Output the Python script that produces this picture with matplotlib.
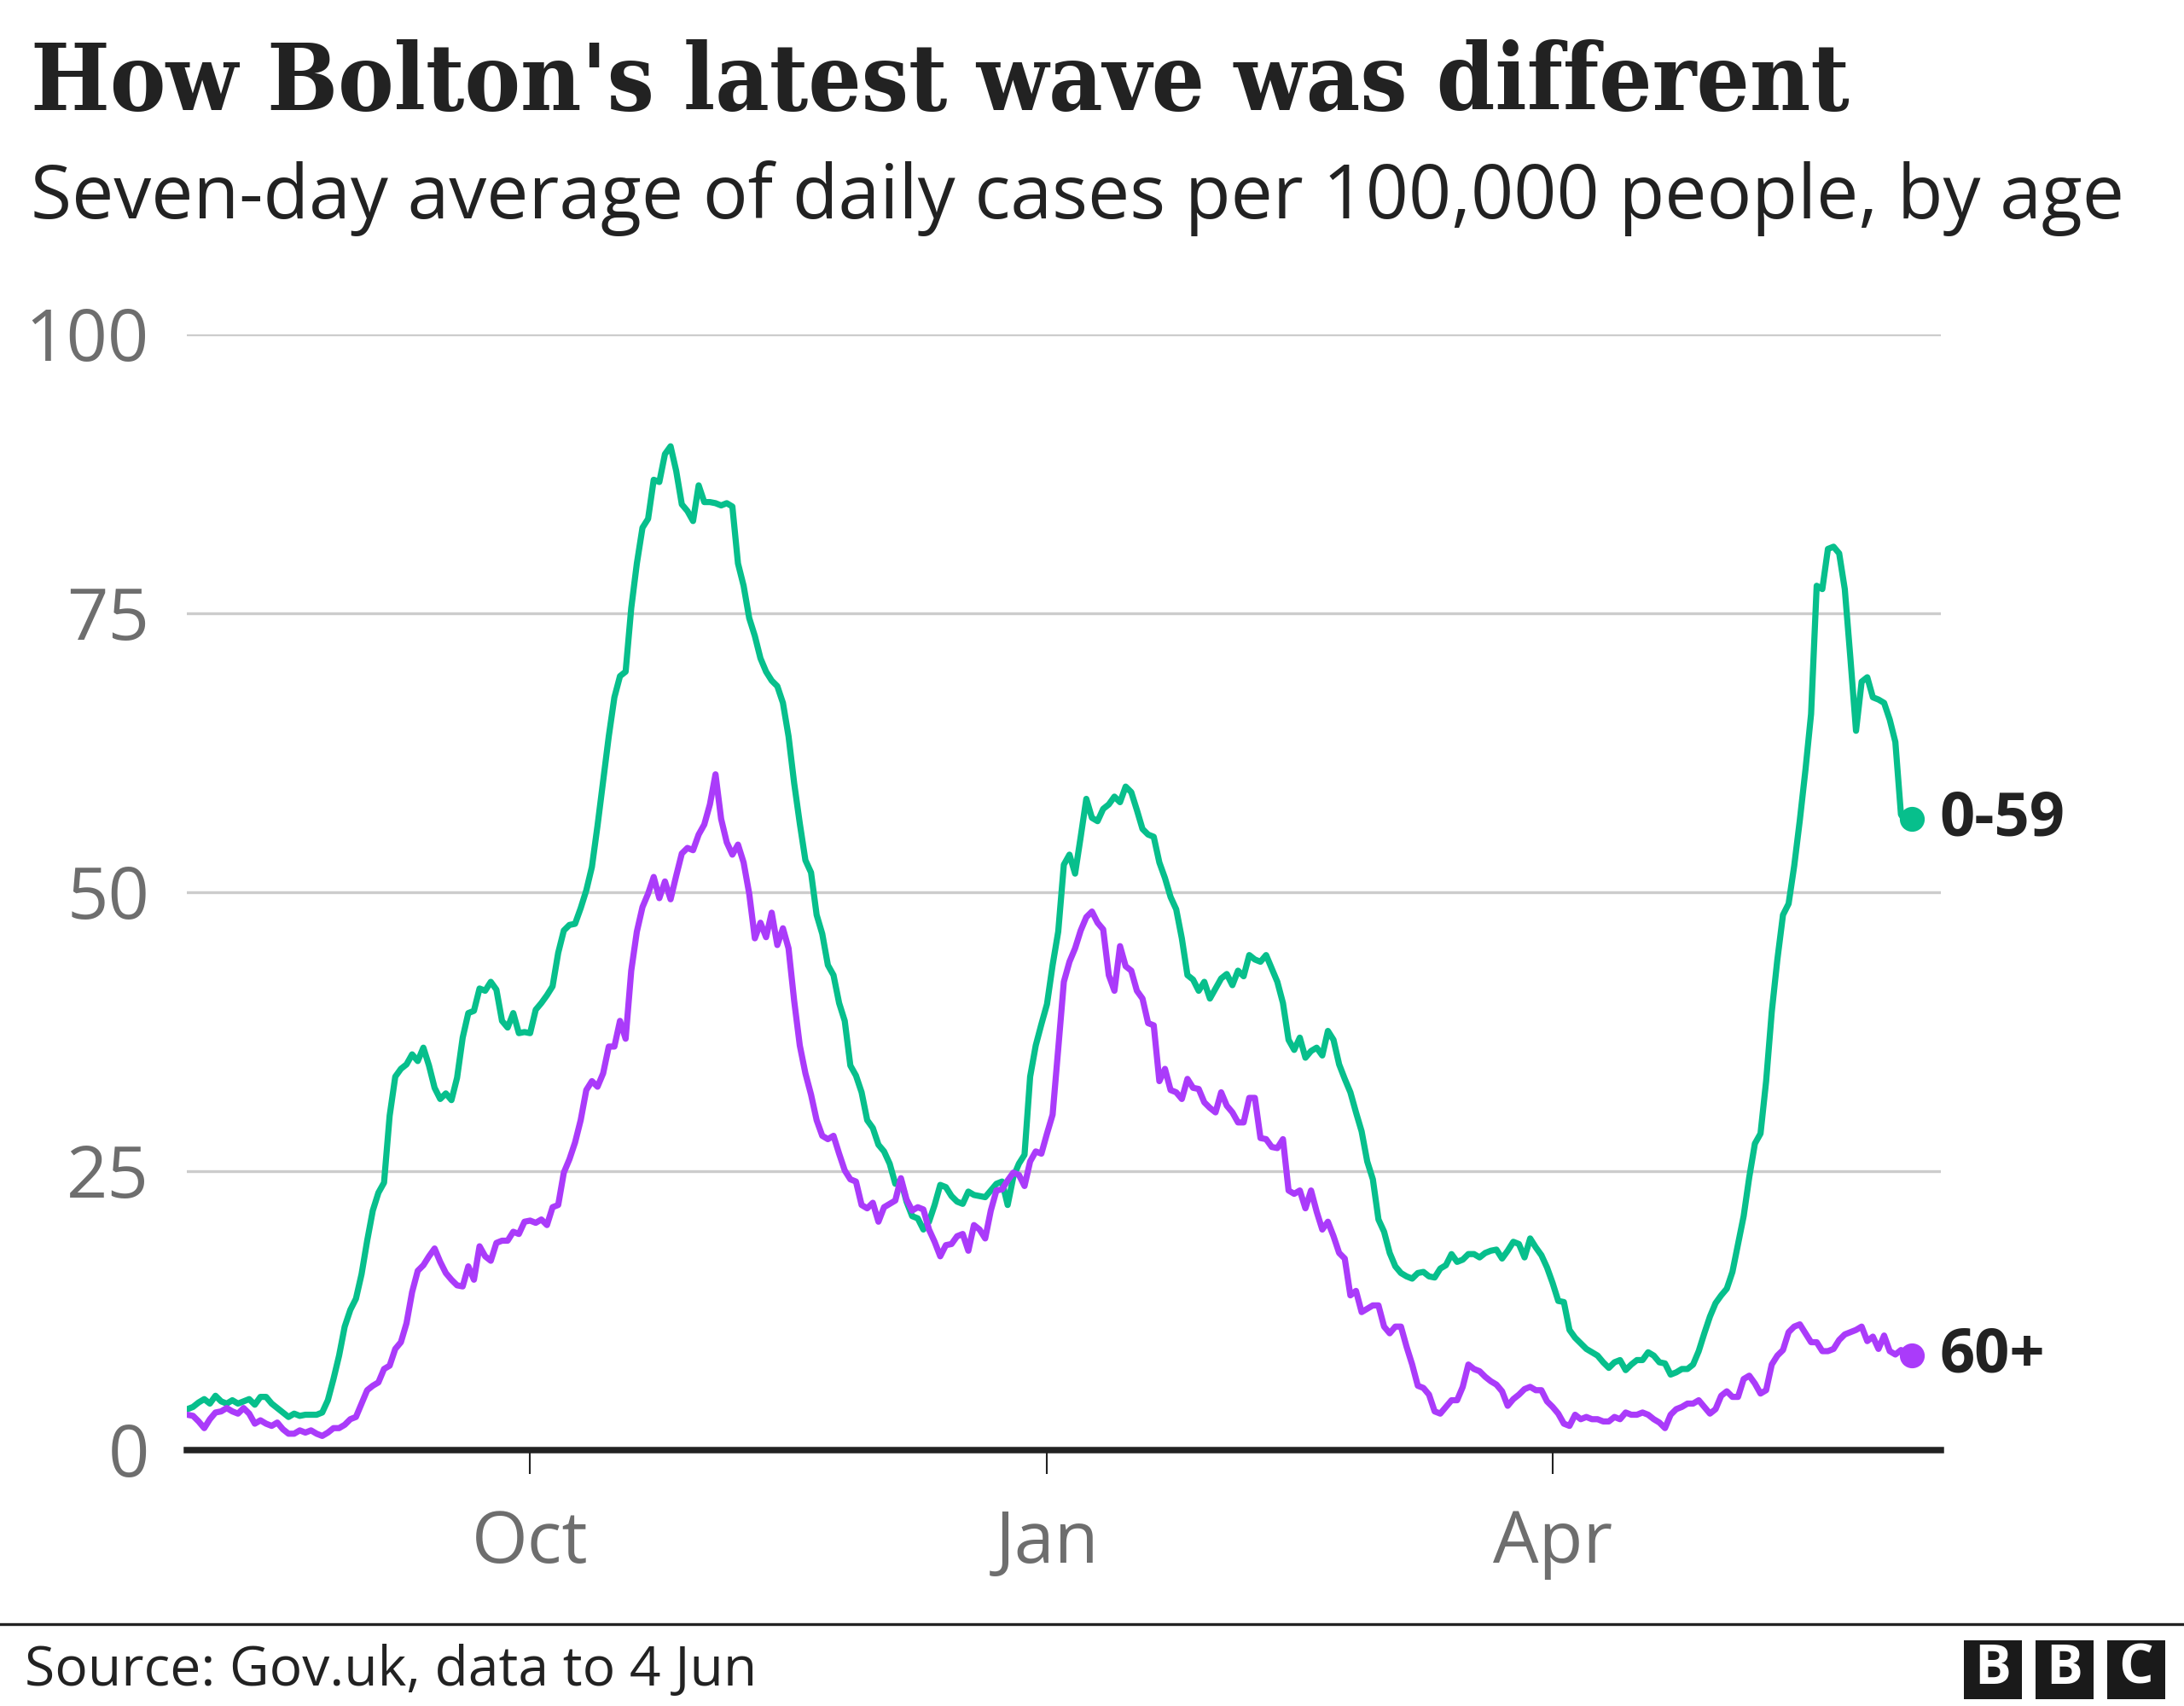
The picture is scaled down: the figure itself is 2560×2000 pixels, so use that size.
import matplotlib
matplotlib.use("Agg")
import matplotlib.pyplot as plt
from matplotlib.patches import Rectangle
from matplotlib.lines import Line2D
from matplotlib import font_manager
import pandas as pd

# ---------------- data (7-day avg daily cases per 100k, from 1 Aug 2020) ----------------
start_date = "2020-08-01"

cases_0_59 = [
    3.7, 3.9, 4.3, 4.6, 4.2, 4.9, 4.4, 4.2, 4.5, 4.2,
    4.4, 4.6, 4.1, 4.8, 4.8, 4.2, 3.8, 3.4, 3.0, 3.3,
    3.1, 3.2, 3.2, 3.2, 3.4, 4.5, 6.4, 8.5, 11.1, 12.6,
    13.6, 15.8, 18.8, 21.5, 23.1, 24.0, 30.0, 33.5, 34.2, 34.6,
    35.5, 34.9, 36.1, 34.5, 32.5, 31.5, 32.0, 31.4, 33.4, 37.0,
    39.2, 39.4, 41.4, 41.2, 42.0, 41.3, 38.5, 37.9, 39.2, 37.4,
    37.5, 37.4, 39.5, 40.1, 40.8, 41.6, 44.6, 46.6, 47.1, 47.2,
    48.6, 50.2, 52.3, 56.0, 60.0, 64.0, 67.5, 69.4, 69.8, 75.5,
    79.5, 82.7, 83.5, 87.0, 86.8, 89.3, 90.0, 87.8, 84.8, 84.2,
    83.3, 86.5, 85.0, 85.0, 84.9, 84.7, 84.9, 84.6, 79.5, 77.5,
    74.6, 73.0, 71.0, 69.8, 69.0, 68.5, 67.0, 64.0, 59.8, 56.2,
    52.9, 51.8, 48.0, 46.3, 43.5, 42.6, 40.1, 38.5, 34.5, 33.6,
    32.1, 29.6, 28.9, 27.4, 26.8, 25.7, 23.9, 24.2, 22.3, 21.0,
    20.8, 19.8, 20.5, 22.0, 23.8, 23.6, 22.8, 22.3, 22.1, 23.2,
    22.9, 22.8, 22.7, 23.3, 23.9, 24.1, 22.0, 24.5, 25.7, 26.5,
    33.5, 36.3, 38.2, 40.0, 43.5, 46.5, 52.5, 53.4, 51.7, 55.0,
    58.4, 56.7, 56.4, 57.5, 57.9, 58.6, 58.1, 59.5, 59.0, 57.4,
    55.7, 55.2, 55.0, 52.7, 51.3, 49.6, 48.5, 45.9, 42.6, 42.2,
    41.2, 42.0, 40.5, 41.4, 42.3, 42.7, 41.7, 43.0, 42.5, 44.4,
    44.0, 43.8, 44.4, 43.2, 42.0, 40.1, 36.8, 35.9, 37.0, 35.2,
    35.8, 36.1, 35.4, 37.6, 36.8, 34.6, 33.3, 32.1, 30.3, 28.6,
    25.9, 24.3, 20.7, 19.6, 17.7, 16.5, 15.9, 15.6, 15.4, 15.9,
    16.0, 15.6, 15.5, 16.3, 16.6, 17.6, 16.9, 17.1, 17.6, 17.6,
    17.3, 17.7, 17.9, 18.0, 17.2, 17.9, 18.7, 18.5, 17.3, 19.0,
    18.2, 17.5, 16.4, 15.0, 13.4, 13.3, 10.8, 10.1, 9.6, 9.1,
    8.8, 8.5, 7.9, 7.4, 7.9, 8.1, 7.2, 7.7, 8.1, 8.1,
    8.8, 8.5, 7.9, 7.8, 6.8, 7.0, 7.3, 7.3, 7.7, 8.9,
    10.5, 12.0, 13.2, 13.9, 14.5, 16.0, 18.5, 21.0, 24.5, 27.5,
    28.4, 33.1, 39.3, 44.0, 48.0, 49.0, 52.4, 56.5, 61.0, 66.0,
    77.5, 77.2, 80.8, 81.0, 80.4, 77.2, 71.0, 64.5, 68.9, 69.3,
    67.5, 67.3, 67.0, 65.5, 63.5, 57.0, 56.2, 56.6,
]

cases_60_plus = [
    3.2, 3.1, 2.6, 2.0, 2.8, 3.4, 3.5, 3.8, 3.5, 3.3,
    3.8, 3.3, 2.4, 2.7, 2.4, 2.2, 2.5, 1.9, 1.5, 1.5,
    1.8, 1.6, 1.8, 1.5, 1.3, 1.6, 2.0, 2.0, 2.3, 2.8,
    3.0, 4.2, 5.4, 5.8, 6.1, 7.3, 7.6, 9.1, 9.7, 11.4,
    14.2, 16.1, 16.6, 17.4, 18.1, 16.9, 15.9, 15.3, 14.8, 14.7,
    16.5, 15.3, 18.3, 17.4, 17.0, 18.6, 18.8, 18.8, 19.6, 19.4,
    20.5, 20.6, 20.4, 20.7, 20.2, 21.8, 22.0, 24.9, 26.1, 27.6,
    29.6, 32.3, 33.1, 32.6, 33.8, 36.2, 36.2, 38.5, 36.9, 43.0,
    46.5, 48.7, 49.9, 51.4, 49.5, 51.0, 49.4, 51.5, 53.5, 54.0,
    53.8, 55.2, 56.1, 57.9, 60.6, 56.6, 54.5, 53.4, 54.3, 52.7,
    49.9, 45.9, 47.3, 46.0, 48.2, 45.3, 46.8, 45.0, 40.3, 36.3,
    33.8, 31.9, 29.6, 28.2, 27.9, 28.2, 26.6, 25.1, 24.3, 24.1,
    22.0, 21.7, 22.2, 20.5, 21.8, 22.1, 22.4, 24.4, 22.5, 21.5,
    21.8, 21.6, 19.8, 18.7, 17.4, 18.4, 18.5, 19.2, 19.4, 17.9,
    20.2, 19.8, 19.0, 21.5, 23.3, 23.4, 24.2, 24.9, 24.7, 23.7,
    25.9, 26.8, 26.6, 28.4, 30.1, 36.0, 42.0, 43.8, 45.0, 46.6,
    47.8, 48.3, 47.3, 46.7, 42.6, 41.2, 45.2, 43.4, 43.0, 41.2,
    40.5, 38.3, 38.1, 33.1, 34.2, 32.3, 32.1, 31.5, 33.3, 32.5,
    32.4, 31.2, 30.7, 30.3, 32.1, 30.9, 30.3, 29.4, 29.4, 31.6,
    31.6, 28.0, 27.9, 27.2, 27.1, 27.9, 23.3, 23.0, 23.3, 21.7,
    23.3, 21.4, 19.8, 20.5, 19.2, 17.7, 17.2, 13.9, 14.3, 12.4,
    12.7, 13.0, 13.0, 11.1, 10.5, 11.1, 11.1, 9.3, 7.7, 5.8,
    5.6, 5.0, 3.5, 3.3, 3.9, 4.5, 4.5, 5.7, 7.7, 7.3,
    7.1, 6.6, 6.2, 5.9, 5.3, 4.0, 4.6, 5.0, 5.5, 5.7,
    5.4, 5.4, 4.4, 3.9, 3.3, 2.4, 2.2, 3.2, 2.8, 3.0,
    2.8, 2.8, 2.6, 2.6, 3.0, 2.8, 3.4, 3.2, 3.2, 3.4,
    3.2, 2.8, 2.5, 2.0, 3.2, 3.7, 3.9, 4.2, 4.2, 4.5,
    3.9, 3.3, 3.7, 4.9, 5.3, 4.8, 4.8, 6.4, 6.7, 6.0,
    5.1, 5.4, 7.7, 8.5, 9.0, 10.6, 11.1, 11.3, 10.5, 9.7,
    9.7, 8.9, 8.9, 9.1, 9.9, 10.4, 10.6, 10.8, 11.1, 9.8,
    10.2, 9.1, 10.3, 8.9, 8.6, 9.0, 8.8, 8.5,
]

series_labels = ["0-59", "60+"]
y_ticks = [0, 25, 50, 75, 100]
x_tick_dates = ["2020-10-01", "2021-01-01", "2021-04-01"]
x_tick_labels = ["Oct", "Jan", "Apr"]

title = "How Bolton's latest wave was different"
subtitle = "Seven-day average of daily cases per 100,000 people, by age"
source = "Source: Gov.uk, data to 4 Jun"

GREEN = "#07bf8c"
PURPLE = "#aa3bfa"
DARK = "#222222"
GREY_TXT = "#6e6e6e"
GRID = "#cccccc"

# ---------------- figure ----------------
W, H = 2560, 2000
fig = plt.figure(figsize=(W / 100, H / 100), dpi=100)
fig.patch.set_facecolor("white")

ax_left, ax_right = 219, 2275
ax_top, ax_bottom = 392.4, 1700.4
ax = fig.add_axes([ax_left / W, 1 - ax_bottom / H,
                   (ax_right - ax_left) / W, (ax_bottom - ax_top) / H])

dates = pd.date_range(start_date, periods=len(cases_0_59), freq="D")
t0 = pd.Timestamp(start_date)
ax.set_xlim(t0 - pd.Timedelta(days=0.1), t0 + pd.Timedelta(days=312.1))
ax.set_ylim(0, 100)

LW = 5.2
ax.plot(dates, cases_0_59, color=GREEN, lw=LW, solid_joinstyle="round",
        solid_capstyle="round", zorder=3)
ax.plot(dates, cases_60_plus, color=PURPLE, lw=LW, solid_joinstyle="round",
        solid_capstyle="round", zorder=4)

for vals, col, lab in [(cases_0_59, GREEN, series_labels[0]),
                       (cases_60_plus, PURPLE, series_labels[1])]:
    ax.plot([dates[-1]], [vals[-1]], "o", ms=20, color=col, zorder=5, clip_on=False)
    ax.annotate(lab, xy=(dates[-1], vals[-1]), xytext=(23, 0),
                textcoords="offset points", va="center", ha="left",
                fontsize=52, fontweight="bold", family="Open Sans",
                color=DARK, annotation_clip=False)

# grid
ax.set_yticks(y_ticks)
ax.set_yticklabels([])
ax.grid(axis="y", color=GRID, lw=2.4)
ax.grid(axis="x", visible=False)
ax.set_axisbelow(True)
for s in ["top", "right", "left"]:
    ax.spines[s].set_visible(False)
ax.spines["bottom"].set_color(DARK)
ax.spines["bottom"].set_linewidth(5.4)
ax.spines["bottom"].set_zorder(6)
ax.tick_params(axis="y", length=0)

tick_pos = [pd.Timestamp(d) for d in x_tick_dates]
ax.set_xticks(tick_pos)
ax.set_xticklabels([])
ax.tick_params(axis="x", length=20, width=1.5, color=DARK, direction="out")

# y labels (right-aligned)
px_per_unit = (ax_bottom - ax_top) / 100.0
for v in y_ticks:
    ax.text((175 - ax_left) / (ax_right - ax_left), v - 30.6 / px_per_unit, str(v),
            transform=ax.get_yaxis_transform(), ha="right", va="baseline",
            fontsize=61, family="Open Sans", color=GREY_TXT)

# x labels
for d, lab in zip(tick_pos, x_tick_labels):
    ax.text(d, -(1832 - ax_bottom) / (ax_bottom - ax_top), lab,
            transform=ax.get_xaxis_transform(), ha="center", va="baseline",
            fontsize=61, family="Open Sans", color=GREY_TXT)

# ---------------- texts ----------------
renderer = fig.canvas.get_renderer()


def fit(t, target_w):
    bb = t.get_window_extent(renderer=renderer)
    t.set_fontsize(t.get_fontsize() * target_w / bb.width)


# prefer a condensed bold serif for the title if one is installed
title_fp = font_manager.FontProperties(family="DejaVu Serif", weight="bold",
                                       stretch="condensed")
t_title = fig.text(36 / W, 1 - 129 / H, title, ha="left", va="baseline",
                   fontproperties=title_fp, color=DARK)
t_title.set_fontsize(70)
fit(t_title, 2132)

t_sub = fig.text(36 / W, 1 - 256 / H, subtitle, ha="left", va="baseline",
                 fontsize=60, family="Open Sans", color=DARK)
fit(t_sub, 2454)

t_src = fig.text(29 / W, 1 - 1976 / H, source, ha="left", va="baseline",
                 fontsize=44, family="Open Sans", color=DARK)
fit(t_src, 858)

# footer rule
fig.add_artist(Line2D([0, 1], [1 - 1904 / H] * 2, transform=fig.transFigure,
                      color=DARK, lw=2.4))

# BBC logo
for x0, letter in [(2302, "B"), (2386, "B"), (2470, "C")]:
    fig.add_artist(Rectangle((x0 / W, 1 - 1992 / H), 68 / W, 69 / H,
                             transform=fig.transFigure, color="#1a1a1a", lw=0))
    fig.text((x0 + 34) / W, 1 - 1957.5 / H, letter, ha="center", va="center",
             fontsize=46, fontweight="bold", family="Open Sans", color="white")

fig.savefig("out.png", dpi=100, facecolor="white")
